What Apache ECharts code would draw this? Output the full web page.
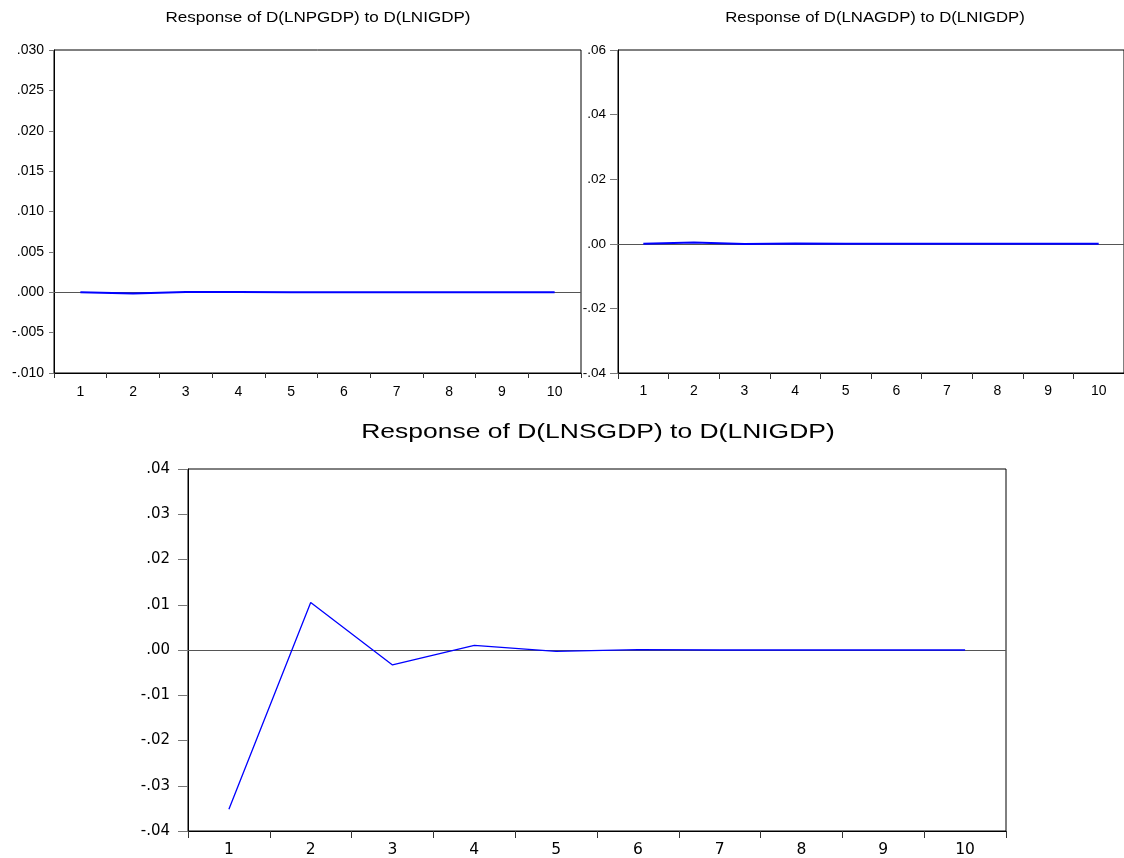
<!DOCTYPE html>
<html>
<head>
<meta charset="utf-8">
<script src="https://cdn.jsdelivr.net/npm/echarts@6/dist/echarts.min.js"></script>
<style>
html,body{margin:0;padding:0;background:#fff;}
#chart{width:1124px;height:858px;}
</style>
</head>
<body>
<div id="chart"></div>
<script>
// ---- data ----
var periods = ['1','2','3','4','5','6','7','8','9','10'];
var titles = [
  'Response of D(LNPGDP) to D(LNIGDP)',
  'Response of D(LNAGDP) to D(LNIGDP)',
  'Response of D(LNSGDP) to D(LNIGDP)'
];
var respPGDP = [0.0000, -0.00015, 0.00004, 0.00002, 0.00001, 0.00001, 0.00001, 0.00001, 0.00001, 0.00001];
var respAGDP = [0.0000, 0.0004, -0.0001, 0.0001, 0.0000, 0.00003, 0.0000, 0.0000, 0.0000, 0.0000];
var respSGDP = [-0.0352, 0.0105, -0.0033, 0.0010, -0.0003, 0.0001, 0.0000, 0.0000, 0.0000, 0.0000];
var yRanges = [
  {min: -0.010, max: 0.030, interval: 0.005, dec: 3},
  {min: -0.04, max: 0.06, interval: 0.02, dec: 2},
  {min: -0.04, max: 0.04, interval: 0.01, dec: 2}
];

var chart = echarts.init(document.getElementById('chart'), null, {renderer: 'canvas'});
var ARIAL = '"Liberation Sans", Arial, sans-serif';
var DEJAVU = '"DejaVu Sans", sans-serif';

function fmt(dec) {
  return function (v) {
    var s = Number(v).toFixed(dec);
    return s.replace(/^(-?)0\./, '$1.');
  };
}

var grids = [
  {left: 54, top: 50, width: 527, height: 323},
  {left: 618, top: 50, width: 513, height: 323},
  {left: 188, top: 469, width: 818, height: 362}
];
var xStyle = [
  {font: ARIAL, size: 14, margin: 12, tick: 5},
  {font: ARIAL, size: 14, margin: 11, tick: 6},
  {font: DEJAVU, size: 15.5, margin: 11, tick: 7}
];
var yStyle = [
  {font: ARIAL, size: 14, margin: 10, tick: 5},
  {font: ARIAL, size: 13.5, margin: 12, tick: 8},
  {font: DEJAVU, size: 15, margin: 18, tick: 10}
];
var seriesData = [respPGDP, respAGDP, respSGDP];

var xAxes = [], yAxes = [], series = [];
for (var i = 0; i < 3; i++) {
  xAxes.push({
    type: 'category', gridIndex: i, data: periods, boundaryGap: true,
    axisLine: {show: true, onZero: false, lineStyle: {color: '#000', width: 1}},
    axisTick: {show: true, length: xStyle[i].tick, lineStyle: {color: '#333'}},
    axisLabel: {margin: xStyle[i].margin, color: '#000', fontSize: xStyle[i].size, fontFamily: xStyle[i].font},
    splitLine: {show: false}
  });
  yAxes.push({
    type: 'value', gridIndex: i,
    min: yRanges[i].min, max: yRanges[i].max, interval: yRanges[i].interval,
    axisLine: {show: true, onZero: false, lineStyle: {color: '#000', width: 1}},
    axisTick: {show: true, length: yStyle[i].tick, lineStyle: {color: '#777'}},
    axisLabel: {margin: yStyle[i].margin, color: '#000', fontSize: yStyle[i].size, fontFamily: yStyle[i].font, formatter: fmt(yRanges[i].dec)},
    splitLine: {show: false}
  });
  series.push({
    type: 'line', xAxisIndex: i, yAxisIndex: i, data: [], z: 1,
    markLine: {
      silent: true, symbol: 'none', animation: false, z: 1,
      label: {show: false},
      lineStyle: {color: '#555', width: 1, type: 'solid'},
      data: [{yAxis: 0}]
    }
  });
  series.push({
    type: 'line', xAxisIndex: i, yAxisIndex: i, data: seriesData[i], z: 10,
    showSymbol: false, symbol: 'none', animation: false,
    lineStyle: {color: '#0000ff', width: i === 2 ? 1.3 : 2}
  });
}

var titlePos = [
  {x: 318, y: 18, size: 15.5, sx: 1.1},
  {x: 875, y: 18, size: 15.5, sx: 1.08},
  {x: 598, y: 432, size: 21, sx: 1.26}
];
var graphics = titlePos.map(function (p, k) {
  return {
    type: 'text', x: p.x, y: p.y, scaleX: p.sx, silent: true,
    style: {
      text: titles[k], fill: '#000', fontSize: p.size, fontFamily: ARIAL,
      textAlign: 'center', textVerticalAlign: 'middle'
    }
  };
});

chart.setOption({
  backgroundColor: '#fff',
  animation: false,
  grid: grids.map(function (g) {
    return Object.assign({show: true, borderColor: '#000', borderWidth: 1, backgroundColor: 'transparent', containLabel: false}, g);
  }),
  xAxis: xAxes,
  yAxis: yAxes,
  series: series,
  graphic: graphics
});
</script>
</body>
</html>
